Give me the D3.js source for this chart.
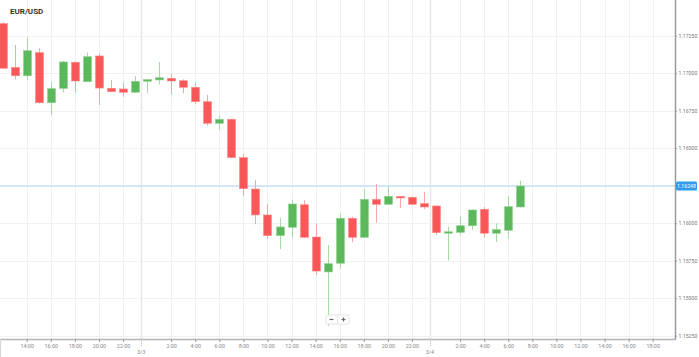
<!DOCTYPE html>
<html><head><meta charset="utf-8">
<script src="https://cdn.jsdelivr.net/npm/d3@7"></script>
<style>html,body{margin:0;padding:0;background:#fff;}svg{display:block;font-family:Roboto,"Open Sans",sans-serif;}</style>
</head><body>
<svg id="c" width="699" height="357"></svg>
<script>
// hour offsets from 3/2 14:00
const hours = [-2,-1,0,1,2,3,4,5,6,7,8,9,10,11,12,13,14,15,16,17,18,19,20,21,22,23,24,25,26,27,28,29,30,31,32,33,34,35,36,37,38,39,40,41];
const open  = [1.17331,1.17039,1.16983,1.17137,1.16803,1.16899,1.17073,1.16943,1.17115,1.16899,1.16895,1.16873,1.16946,1.16955,1.16966,1.16950,1.16906,1.16810,1.16666,1.16693,1.16437,1.16228,1.16055,1.15917,1.15973,1.16123,1.15908,1.15675,1.15733,1.16033,1.15906,1.16159,1.16126,1.16179,1.16173,1.16131,1.16115,1.15935,1.15939,1.15983,1.16093,1.15933,1.15953,1.16108];
const close = [1.17033,1.16983,1.17150,1.16803,1.16897,1.17075,1.16948,1.17110,1.16901,1.16877,1.16873,1.16946,1.16957,1.16970,1.16948,1.16906,1.16810,1.16666,1.16693,1.16437,1.16230,1.16055,1.15917,1.15975,1.16128,1.15906,1.15681,1.15730,1.16033,1.15906,1.16159,1.16126,1.16179,1.16168,1.16126,1.16108,1.15937,1.15943,1.15983,1.16088,1.15933,1.15957,1.16110,1.16248];
const high  = [1.17341,1.17188,1.17239,1.17166,1.16943,1.17081,1.17078,1.17137,1.17133,1.16955,1.16937,1.16981,1.16959,1.17075,1.16995,1.16959,1.16937,1.16855,1.16717,1.16695,1.16461,1.16288,1.16128,1.16037,1.16155,1.16153,1.15999,1.15855,1.16066,1.16043,1.16228,1.16261,1.16250,1.16181,1.16175,1.16210,1.16118,1.15977,1.16046,1.16091,1.16108,1.15999,1.16179,1.16283];
const low   = [1.17031,1.16959,1.16955,1.16798,1.16721,1.16870,1.16870,1.16941,1.16788,1.16875,1.16843,1.16868,1.16866,1.16926,1.16861,1.16866,1.16795,1.16650,1.16621,1.16433,1.16181,1.15993,1.15895,1.15826,1.15903,1.15901,1.15655,1.15315,1.15697,1.15873,1.15903,1.16003,1.16125,1.16103,1.16125,1.16095,1.15923,1.15751,1.15917,1.15955,1.15906,1.15875,1.15899,1.16105];

const xTickHours  = [0,2,4,6,8,12,14,16,18,20,22,24,26,28,30,32,36,38,40,42,44,46,48,50,52];
const xTickLabels = ["14:00","16:00","18:00","20:00","22:00","2:00","4:00","6:00","8:00","10:00","12:00","14:00","16:00","18:00","20:00","22:00","2:00","4:00","6:00","8:00","10:00","12:00","14:00","16:00","18:00"];
const dateHours  = [9.5,33.5];
const dateLabels = ["3/3","3/4"];
const yTicks = [1.1525,1.155,1.1575,1.16,1.1625,1.165,1.1675,1.17,1.1725];
const title = "EUR/USD";

const svg = d3.select("#c");
const W = 675, H = 339;
const x = d3.scaleLinear().domain([-2.218, 53.85]).range([0, W]);
const y = d3.scaleLinear().domain([1.15228, 1.17488]).range([H, 0]);
const last = close[close.length - 1];

// grid
const g = svg.append("g");
g.selectAll(".vg").data(xTickHours).join("line")
  .attr("x1", d => Math.round(x(d)) + 0.5).attr("x2", d => Math.round(x(d)) + 0.5)
  .attr("y1", 0).attr("y2", H).attr("stroke", "#f1f1f1").attr("stroke-width", 1);
g.selectAll(".dg").data(dateHours).join("line")
  .attr("x1", d => Math.round(x(d)) + 0.5).attr("x2", d => Math.round(x(d)) + 0.5)
  .attr("y1", 0).attr("y2", H).attr("stroke", "#e6e6e6").attr("stroke-width", 1.5);
g.selectAll(".hg").data(yTicks).join("line")
  .attr("x1", 0).attr("x2", W)
  .attr("y1", d => Math.round(y(d)) + 0.5).attr("y2", d => Math.round(y(d)) + 0.5)
  .attr("stroke", "#f1f1f1").attr("stroke-width", 1);

// current price line
svg.append("line").attr("x1", 0).attr("x2", W)
  .attr("y1", y(last)).attr("y2", y(last))
  .attr("stroke", "#c4e2f8").attr("stroke-width", 1.5);

// candles
const data = hours.map((h, i) => ({h, o: open[i], c: close[i], hi: high[i], lo: low[i]}));
const cg = svg.append("g");
const up = d => d.c >= d.o;
cg.selectAll(".w").data(data).join("line")
  .attr("x1", d => Math.round(x(d.h)) + 0.5).attr("x2", d => Math.round(x(d.h)) + 0.5)
  .attr("y1", d => y(d.hi)).attr("y2", d => y(d.lo))
  .attr("stroke", d => up(d) ? "#a6dba6" : "#f9a5a5").attr("stroke-width", 1);
cg.selectAll(".b").data(data).join("rect")
  .attr("x", d => Math.round(x(d.h)) - 3.5)
  .attr("width", 8)
  .attr("y", d => y(Math.max(d.o, d.c)))
  .attr("height", d => Math.max(1.5, Math.abs(y(d.o) - y(d.c))))
  .attr("fill", d => up(d) ? "#5cb85c" : "#fa5858")
  .attr("stroke", d => up(d) ? "#8ed08e" : "#fb8a8a").attr("stroke-width", 0.6);

// axes lines
svg.append("line").attr("x1", W + 0.5).attr("x2", W + 0.5).attr("y1", 0).attr("y2", H + 1)
  .attr("stroke", "#9a9a9a").attr("stroke-width", 1.5);
svg.append("line").attr("x1", 0).attr("x2", W + 1).attr("y1", H + 0.5).attr("y2", H + 0.5)
  .attr("stroke", "#b5b5b5").attr("stroke-width", 1.5);
svg.append("line").attr("x1", 0.5).attr("x2", 0.5).attr("y1", H).attr("y2", 357)
  .attr("stroke", "#d8d8d8");

// y axis (the label under the current price tag is hidden, as in the original)
const ya = svg.append("g").attr("transform", `translate(${W},0)`)
  .call(d3.axisRight(y).tickValues(yTicks)
    .tickFormat(d => Math.abs(y(d) - y(last)) < 8 ? "" : d3.format(".5f")(d))
    .tickSize(2).tickPadding(1.5));
ya.select(".domain").remove();
ya.selectAll("line").attr("stroke", "#999");
ya.selectAll("text").attr("fill", "#777").style("font-size", "5.2px").style("font-family", "Roboto");

// x axis
const xa = svg.append("g").attr("transform", `translate(0,${H})`)
  .call(d3.axisBottom(x).tickValues(xTickHours).tickFormat((d, i) => xTickLabels[i]).tickSize(3).tickPadding(2.5));
xa.select(".domain").remove();
xa.selectAll("line").attr("stroke", "#999");
xa.selectAll("text").attr("fill", "#888").style("font-size", "5.4px").style("font-family", "Roboto");

// date labels
const dl = svg.append("g");
dl.selectAll("line").data(dateHours).join("line")
  .attr("x1", d => Math.round(x(d)) + 0.5).attr("x2", d => Math.round(x(d)) + 0.5)
  .attr("y1", H).attr("y2", H + 8).attr("stroke", "#bbb").attr("stroke-dasharray", "1,1");
dl.selectAll("text").data(dateHours).join("text")
  .attr("x", d => x(d)).attr("y", 354).attr("text-anchor", "middle")
  .attr("fill", "#888").style("font-size", "5.4px").text((d, i) => dateLabels[i]);

// current price label
const py = y(last);
svg.append("rect").attr("x", 676).attr("y", py - 4.5).attr("width", 21).attr("height", 9)
  .attr("rx", 1.5).attr("fill", "#2f9cf0");
svg.append("text").attr("x", 686.5).attr("y", py + 1.9).attr("text-anchor", "middle")
  .attr("fill", "#fff").style("font-size", "5.2px").text(d3.format(".5f")(last));

// zoom buttons
const zb = svg.append("g").attr("transform", "translate(326,315)");
zb.append("rect").attr("width", 23).attr("height", 9).attr("rx", 1)
  .attr("fill", "#fff").attr("stroke", "#ddd").attr("stroke-width", 0.8);
zb.append("line").attr("x1", 11.5).attr("x2", 11.5).attr("y1", 0).attr("y2", 9).attr("stroke", "#e2e2e2");
zb.append("line").attr("x1", 3.5).attr("x2", 7.5).attr("y1", 4.5).attr("y2", 4.5).attr("stroke", "#666").attr("stroke-width", 1.2);
zb.append("line").attr("x1", 15.5).attr("x2", 19.5).attr("y1", 4.5).attr("y2", 4.5).attr("stroke", "#666").attr("stroke-width", 1.2);
zb.append("line").attr("x1", 17.5).attr("x2", 17.5).attr("y1", 2.5).attr("y2", 6.5).attr("stroke", "#666").attr("stroke-width", 1.2);

// title
svg.append("text").attr("x", 10).attr("y", 13.5).attr("fill", "#333")
  .style("font-size", "8px").style("font-weight", "bold").text(title);
</script>
</body></html>
